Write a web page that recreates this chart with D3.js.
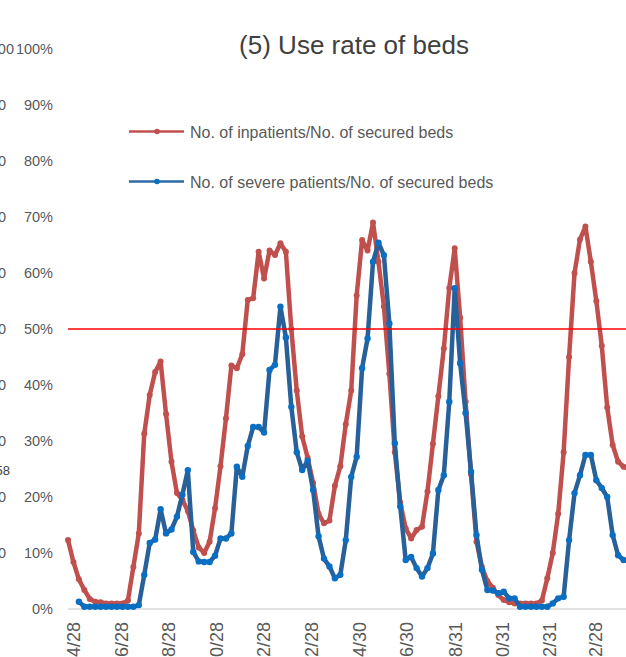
<!DOCTYPE html>
<html lang="en">
  <head>
    <meta charset="UTF-8" />
    <title>Use rate of beds</title>
    <script src="https://cdn.jsdelivr.net/npm/d3@7"></script>
    <style>
      body { margin: 0; background: #fff; }
      text { font-family: "Liberation Sans", Arial, sans-serif; }
      .title { font-size: 26px; fill: #404040; }
      .legend text { font-size: 16px; fill: #595959; }
      .yaxis text { font-size: 14.5px; fill: #595959; }
      .xaxis text { font-size: 18px; fill: #595959; }
      .side-label { font-size: 14.5px; fill: #595959; }
      .note { font-size: 13px; fill: #404040; }
      .base-line { stroke: #d9d9d9; stroke-width: 1.5px; }
      .limit-line { stroke: #ff0000; stroke-width: 1.5px; }
      .inpat-line { fill: none; stroke: #c0504d; stroke-width: 4.5px; stroke-linejoin: round; }
      .inpat-dot { fill: #c0504d; }
      .severe-line { fill: none; stroke: #28609a; stroke-width: 4.5px; stroke-linejoin: round; }
      .severe-dot { fill: #0a6fc2; }
    </style>
  </head>
  <body>
    <script>
      // weekly points, first week starting 2020/4/21
      var firstWeek = "2020/4/21";
      var weekCount = 104;

      // No. of inpatients / No. of secured beds (%)
      var inpatientRate = [
        12.3, 8.4, 5.3, 3.4, 1.8, 1.3, 1.2, 1.0, 1.0, 1.0,
        1.0, 1.5, 7.5, 13.5, 31.3, 38.2, 42.3, 44.2, 34.8, 26.3,
        20.7, 19.5, 17.5, 14, 11, 10, 12, 18, 25.5, 34,
        43.5, 43, 45.5, 55.2, 55.5, 63.8, 59, 64, 63.2, 65.3,
        63.8, 50, 39, 30.8, 27, 22.5, 17, 15.3, 15.8, 22,
        25.5, 33, 39, 56, 65.9, 64, 69, 62, 54, 42,
        28, 19, 14.4, 12.6, 14.1, 14.7, 21, 29.5, 38, 46.5,
        57.3, 64.4, 52, 37, 24, 12, 7.5, 5, 3.8, 2.5,
        1.6, 1.2, 1.0, 1.0, 1.0, 1.0, 1.0, 1.5, 5.5, 10,
        17, 28, 45, 60, 66, 68.3, 62, 55, 47, 36,
        29.3, 26.3, 25.4, 25
      ];

      // No. of severe patients / No. of secured beds (%)
      var severeRate = [
        null, null, 1.3, 0.4, 0.4, 0.4, 0.4, 0.4, 0.4, 0.4,
        0.4, 0.4, 0.4, 0.7, 6.1, 11.8, 12.4, 17.8, 13.5, 14.2,
        16.5, 20.4, 24.8, 10.2, 8.5, 8.4, 8.4, 9.5, 12.6, 12.6,
        13.5, 25.4, 23.6, 29.1, 32.5, 32.5, 31.5, 42.7, 43.6, 54,
        48.5, 36.1, 28, 24.8, 26.5, 21.25, 13, 9, 7.6, 5.5,
        6.1, 12.3, 23.6, 27.2, 43, 48.3, 62, 65.4, 63.2, 51,
        29.6, 18.3, 8.75, 9.3, 7.3, 5.8, 7.3, 9.9, 21.25, 23.9,
        37, 57.3, 43.9, 35, 24.5, 13.2, 7, 3.4, 3.3, 2.8,
        3.1, 1.9, 1.9, 0.4, 0.4, 0.4, 0.4, 0.4, 0.4, 1.0,
        1.9, 2.2, 12.3, 20.7, 23.9, 27.5, 27.5, 23, 21.6, 20,
        13.2, 9.6, 8.75, 8.5
      ];

      var xTickLabels = ["2020/4/28", "2020/6/28", "2020/8/28", "2020/10/28",
        "2020/12/28", "2021/2/28", "2021/4/30", "2021/6/30", "2021/8/31",
        "2021/10/31", "2021/12/31", "2022/2/28"];
      var yTicks = [0, 10, 20, 30, 40, 50, 60, 70, 80, 90, 100];
      var limitValue = 50;

      // labels of the neighbouring chart, cut by the left edge
      var sideTicks = [100, 90, 80, 70, 60, 50, 40, 30, 20, 10];
      var sideLabels = ["00", "0", "0", "0", "0", "0", "0", "0", "0", "0"];

      var seriesNames = ["No. of inpatients/No. of secured beds",
                         "No. of severe patients/No. of secured beds"];

      var parse = d3.timeParse("%Y/%m/%d");
      var fmt = d3.timeFormat("%Y/%-m/%-d");

      var start = parse(firstWeek);
      var weeks = d3.timeDay.range(start, d3.timeDay.offset(start, 7 * (weekCount - 1) + 1), 7);

      var w = 626, h = 657;
      var svg = d3.select("body").append("svg")
        .attr("width", w)
        .attr("height", h);

      var xScale = d3.scaleTime()
        .domain([weeks[0], weeks[weeks.length - 1]])
        .range([68, 629]);

      var yScale = d3.scaleLinear()
        .domain([0, 100])
        .range([609, 49]);

      svg.append("text")
        .attr("class", "title")
        .attr("x", 354)
        .attr("y", 54)
        .attr("text-anchor", "middle")
        .text("(5) Use rate of beds");

      // y axis labels only
      var yAxis = d3.axisLeft(yScale)
        .tickValues(yTicks)
        .tickSize(0)
        .tickPadding(15)
        .tickFormat(function(d) { return d + "%"; });

      svg.append("g")
        .attr("class", "yaxis")
        .attr("transform", "translate(68,0)")
        .call(yAxis)
        .call(function(g) { g.select(".domain").remove(); })
        .selectAll("text")
        .attr("font-family", null)
        .attr("font-size", null);

      svg.selectAll(".side-label")
        .data(sideTicks)
        .enter()
        .append("text")
        .attr("class", "side-label")
        .attr("x", function(d, i) { return i === 0 ? 14 : 6; })
        .attr("y", function(d) { return yScale(d); })
        .attr("dy", "0.32em")
        .attr("text-anchor", "end")
        .text(function(d, i) { return sideLabels[i]; });

      svg.append("text")
        .attr("class", "note")
        .attr("x", 10)
        .attr("y", yScale(24.6))
        .attr("dy", "0.32em")
        .attr("text-anchor", "end")
        .text("58");

      svg.append("line")
        .attr("class", "base-line")
        .attr("x1", 68)
        .attr("x2", w)
        .attr("y1", yScale(0))
        .attr("y2", yScale(0));

      var xAxis = d3.axisBottom(xScale)
        .tickValues(xTickLabels.map(parse))
        .tickSize(0)
        .tickFormat(fmt);

      svg.append("g")
        .attr("class", "xaxis")
        .attr("transform", "translate(0," + yScale(0) + ")")
        .call(xAxis)
        .call(function(g) { g.select(".domain").remove(); })
        .selectAll("text")
        .attr("font-family", null)
        .attr("font-size", null)
        .attr("transform", "rotate(-90)")
        .attr("text-anchor", "end")
        .attr("x", -13)
        .attr("y", 0)
        .attr("dy", "0.35em");

      var inpatData = weeks.map(function(d, i) { return { date: d, v: inpatientRate[i] }; });
      var severeData = weeks.map(function(d, i) { return { date: d, v: severeRate[i] }; });

      var line = d3.line()
        .defined(function(d) { return d.v != null; })
        .x(function(d) { return xScale(d.date); })
        .y(function(d) { return yScale(d.v); });

      svg.append("path")
        .datum(inpatData)
        .attr("class", "inpat-line")
        .attr("d", line);

      svg.selectAll(".inpat-dot")
        .data(inpatData)
        .enter()
        .append("circle")
        .attr("class", "inpat-dot")
        .attr("cx", function(d) { return xScale(d.date); })
        .attr("cy", function(d) { return yScale(d.v); })
        .attr("r", 3);

      svg.append("path")
        .datum(severeData)
        .attr("class", "severe-line")
        .attr("d", line);

      svg.selectAll(".severe-dot")
        .data(severeData.filter(function(d) { return d.v != null; }))
        .enter()
        .append("circle")
        .attr("class", "severe-dot")
        .attr("cx", function(d) { return xScale(d.date); })
        .attr("cy", function(d) { return yScale(d.v); })
        .attr("r", 3.2);

      svg.append("line")
        .attr("class", "limit-line")
        .attr("x1", 68)
        .attr("x2", w)
        .attr("y1", yScale(limitValue))
        .attr("y2", yScale(limitValue));

      // legend
      var legendColors = [["#c0504d", "#c0504d"], ["#2e6aa6", "#0a6fc2"]];
      var legendY = [131.5, 181.5];

      var legend = svg.append("g").attr("class", "legend");

      var item = legend.selectAll("g")
        .data(seriesNames)
        .enter()
        .append("g")
        .attr("transform", function(d, i) { return "translate(0," + legendY[i] + ")"; });

      item.append("line")
        .attr("x1", 129)
        .attr("x2", 184)
        .attr("stroke", function(d, i) { return legendColors[i][0]; })
        .attr("stroke-width", 2.5);

      item.append("circle")
        .attr("cx", 157)
        .attr("r", 2.8)
        .attr("fill", function(d, i) { return legendColors[i][1]; });

      item.append("text")
        .attr("x", 190)
        .attr("y", 6.5)
        .text(function(d) { return d; });
    </script>
  </body>
</html>
